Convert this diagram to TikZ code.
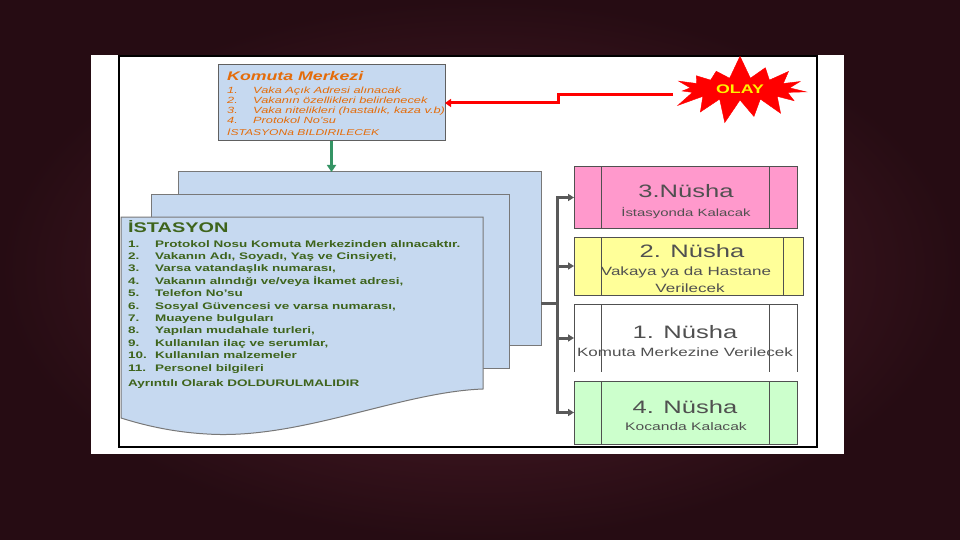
\documentclass[tikz,border=0pt]{standalone}
\usepackage{fontspec}
\setmainfont{Liberation Sans}[FakeStretch=1.42]
\usetikzlibrary{shapes.symbols,arrows.meta}
\definecolor{wineinner}{RGB}{86,32,46}
\definecolor{wineouter}{RGB}{38,12,19}
\definecolor{pageblue}{RGB}{198,217,240}
\definecolor{pageline}{RGB}{120,120,120}
\definecolor{kmorange}{RGB}{228,108,10}
\definecolor{stgreen}{RGB}{62,100,28}
\definecolor{arrowgreen}{RGB}{52,148,100}
\definecolor{busgray}{RGB}{89,89,89}
\definecolor{copypink}{RGB}{255,153,204}
\definecolor{copyyellow}{RGB}{255,255,153}
\definecolor{copygreen}{RGB}{204,255,204}
\definecolor{copytext}{RGB}{80,80,80}
\begin{document}
\begin{tikzpicture}[x=1pt,y=-1pt,
    page/.style={draw=pageline, fill=pageblue, line width=1pt, outer sep=0pt, inner sep=0pt, anchor=north west},
    copybox/.style={draw=busgray!90!black, line width=1pt, outer sep=0pt, inner sep=0pt, anchor=north west},
    boxline/.style={draw=busgray!90!black, line width=1pt},
    ktext/.style={text=kmorange, font=\fontsize{9}{10}\selectfont\itshape, anchor=base west, inner sep=0pt},
    sttext/.style={text=stgreen, font=\fontsize{9.5}{11}\selectfont\bfseries, anchor=base west, inner sep=0pt},
    nusha/.style={text=copytext, font=\fontsize{18}{20}\selectfont, anchor=base, inner sep=0pt},
    nushasub/.style={text=copytext, font=\fontsize{12}{14}\selectfont, anchor=base, inner sep=0pt},
    bus/.style={draw=busgray, line width=3pt, -{Triangle[length=6pt,width=7pt]}}]
    \useasboundingbox (0,0) rectangle (960,540);
    \shade[inner color=wineinner, outer color=wineouter] (0,0) rectangle (960,540);
    \fill[white] (91,55) rectangle (844,454);
    \draw[line width=2pt] (119,56) rectangle (817,447);

    % komuta merkezi
    \node[page, draw=pageline!80!black, minimum width=227pt, minimum height=76pt] (komuta) at (218,65) {};
    \node[ktext, font=\fontsize{12.5}{14}\selectfont\bfseries\itshape] (ktitle) at (227,81) {Komuta Merkezi};
    \foreach \t [count=\i] in {Vaka Açık Adresi alınacak, Vakanın özellikleri belirlenecek,
        {Vaka nitelikleri (hastalık, kaza v.b)}, Protokol No'su} {
        \node[ktext] (kn\i) at (227,84+10*\i) {\i.};
        \node[ktext] (kt\i) at (253,84+10*\i) {\t};
    }
    \node[ktext, font=\fontsize{8.5}{10}\selectfont\itshape] (kend) at (227,136) {İSTASYONa BILDIRILECEK};

    % olay
    \node[starburst, fill=red, draw=red, starburst points=15, starburst point height=24pt,
        random starburst=7, minimum width=148pt, minimum height=70pt, inner sep=0pt,
        text=yellow, font=\fontsize{12.5}{14}\selectfont\bfseries] (olay) at (740,89) {OLAY};
    \coordinate (olaytip) at (673,95);
    \draw[red, line width=3pt, -{Triangle[length=6pt,width=8pt]}] (olaytip) -- (558,95) |- (komuta.east);

    % istasyon pages
    \node[page, minimum width=363pt, minimum height=173pt] (pageC) at (178,172) {};
    \node[page, minimum width=358pt, minimum height=174pt] (pageB) at (151,194) {};
    \draw[draw=pageline, fill=pageblue, line width=1pt] (121,217) -- (483,217) -- (483,389)
        .. controls (400,392) and (300,440) .. (207,434) .. controls (170,432) and (140,424) .. (121,418) -- cycle;
    \coordinate (pageA) at (121,217);
    \draw[arrowgreen, line width=3pt, -{Triangle[length=7pt,width=9pt]}] (komuta.south) -- (komuta.south |- pageC.north);

    \node[sttext, font=\fontsize{14}{16}\selectfont\bfseries] (sttitle) at (128,232) {İSTASYON};
    \foreach \t [count=\i] in {Protokol Nosu Komuta Merkezinden alınacaktır.,
        {Vakanın Adı, Soyadı, Yaş ve Cinsiyeti,}, {Varsa vatandaşlık numarası,},
        {Vakanın alındığı ve/veya İkamet adresi,}, Telefon No'su,
        {Sosyal Güvencesi ve varsa numarası,}, Muayene bulguları,
        {Yapılan mudahale turleri,}, {Kullanılan ilaç ve serumlar,},
        Kullanılan malzemeler, Personel bilgileri} {
        \node[sttext] (sn\i) at (128,247+12.4*\i-12.4) {\i.};
        \node[sttext] (st\i) at (155,247+12.4*\i-12.4) {\t};
    }
    \node[sttext] (stend) at (128,386) {Ayrıntılı Olarak DOLDURULMALIDIR};

    % nusha boxes
    \node[copybox, fill=copypink, minimum width=223pt, minimum height=61pt] (c3) at (574,167) {};
    \node[copybox, fill=copyyellow, minimum width=229pt, minimum height=58pt] (c2) at (574,237) {};
    \node[copybox, draw=none, fill=white, minimum width=223pt, minimum height=68pt] (c1) at (574,304) {};
    \node[copybox, fill=copygreen, minimum width=223pt, minimum height=63pt] (c4) at (574,381) {};
    \draw[boxline] (c1.south west) -- (c1.north west) -- (c1.north east) -- (c1.south east);
    \foreach \b/\r in {c3/28,c2/20,c1/28,c4/28}
        \draw[boxline] ([xshift=27pt]\b.north west) -- ([xshift=27pt]\b.south west)
            ([xshift=-\r pt]\b.north east) -- ([xshift=-\r pt]\b.south east);

    \coordinate (hub) at (557,303);
    \draw[busgray, line width=3pt] (pageC.east |- hub) -- (hub);
    \foreach \b in {c3,c2,c1,c4}
        \draw[bus] (hub) |- (\b.west);

    \node[nusha] (n3) at (686,197) {3.Nüsha};
    \node[nushasub, font=\fontsize{10.5}{12}\selectfont] (s3) at (686,216) {İstasyonda Kalacak};
    \node[nusha] (n2) at (692,257) {2. Nüsha};
    \node[nushasub] (s2a) at (686,275) {Vakaya ya da Hastane};
    \node[nushasub] (s2b) at (690,292) {Verilecek};
    \node[nusha] (n1) at (685,338) {1. Nüsha};
    \node[nushasub] (s1) at (685,356) {Komuta Merkezine Verilecek};
    \node[nusha] (n4) at (685,413) {4. Nüsha};
    \node[nushasub, font=\fontsize{11}{13}\selectfont] (s4) at (686,430) {Kocanda Kalacak};
\end{tikzpicture}
\end{document}
